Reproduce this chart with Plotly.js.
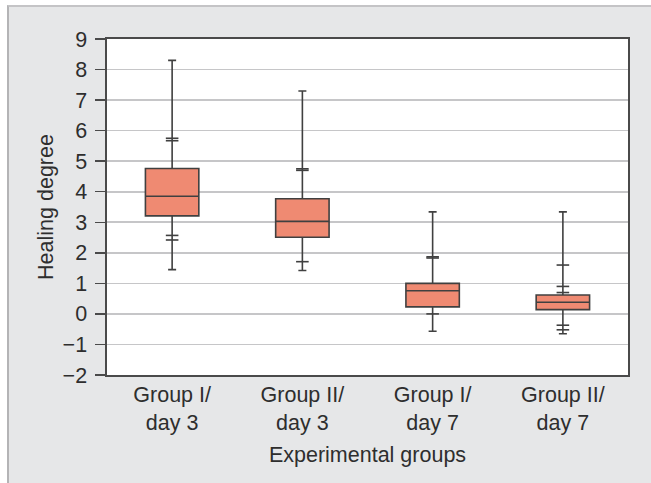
<!DOCTYPE html>
<html>
<head>
<meta charset="utf-8">
<script src="https://cdn.plot.ly/plotly-3.0.1.min.js"></script>
<style>
  html, body { margin: 0; padding: 0; background: #ffffff; width: 651px; height: 483px; overflow: hidden; }
  #chart { position: absolute; left: 7px; top: 5px; width: 642px; height: 476px;
           border-left: 2px solid #b4b4b6; border-top: 2px solid #c4c4c6; }
</style>
</head>
<body>
<div id="chart"></div>
<script>
// Data
const groups = ["Group I/<br>day 3", "Group II/<br>day 3", "Group I/<br>day 7", "Group II/<br>day 7"];
const lowerFence = [1.45, 1.42, -0.57, -0.65];
const q1 = [3.21, 2.51, 0.23, 0.14];
const median = [3.85, 3.03, 0.76, 0.38];
const q3 = [4.76, 3.77, 1.00, 0.62];
const upperFence = [8.30, 7.30, 3.34, 3.34];

// Extra horizontal marks drawn on the whiskers
const markGroup1 = [5.75, 5.67, 2.57, 2.42];
const markGroup2 = [4.75, 4.70, 1.71];
const markGroup3 = [1.87, 1.83, 0.00];
const markGroup4 = [1.60, 0.90, 0.70, -0.37, -0.52];

const yTicks = [-2, -1, 0, 1, 2, 3, 4, 5, 6, 7, 8, 9];

const markX = [], markY = [];
[markGroup1, markGroup2, markGroup3, markGroup4].forEach((arr, i) => {
  arr.forEach(v => { markX.push(groups[i]); markY.push(v); });
});

const textColor = '#2e2e2e';
const fontFamily = '"Liberation Sans", Arial, Helvetica, sans-serif';
const fs = 21.5;

const data = [
  {
    type: 'box',
    x: groups,
    lowerfence: lowerFence,
    q1: q1,
    median: median,
    q3: q3,
    upperfence: upperFence,
    boxpoints: false,
    width: 0.41,
    whiskerwidth: 0.15,
    fillcolor: '#ef8a72',
    line: { color: '#404040', width: 1.6 },
    hoverinfo: 'skip',
    showlegend: false
  },
  {
    type: 'scatter',
    mode: 'markers',
    x: markX,
    y: markY,
    marker: { symbol: 'line-ew', size: 9, line: { color: '#404040', width: 1.6 } },
    hoverinfo: 'skip',
    showlegend: false
  }
];

const layout = {
  width: 642,
  height: 476,
  margin: { l: 98, r: 23, t: 32, b: 108 },
  paper_bgcolor: '#e6e7e8',
  plot_bgcolor: '#ffffff',
  font: { family: fontFamily, color: textColor, size: fs },
  showlegend: false,
  xaxis: {
    type: 'category',
    range: [-0.5, 3.5],
    showgrid: false,
    zeroline: false,
    showline: true,
    mirror: true,
    linecolor: '#4a4a4a',
    linewidth: 1.6,
    ticks: '',
    tickfont: { size: fs, color: textColor },
    title: { text: 'Experimental groups', font: { size: fs, color: textColor }, standoff: 12 }
  },
  yaxis: {
    range: [-2, 9],
    tickvals: yTicks,
    ticktext: yTicks.map(v => v < 0 ? '\u2212' + Math.abs(v) : String(v)),
    showgrid: true,
    gridcolor: '#c6c6c8',
    gridwidth: 1.6,
    zeroline: false,
    showline: true,
    mirror: true,
    linecolor: '#4a4a4a',
    linewidth: 1.6,
    ticks: 'outside',
    ticklen: 10,
    tickwidth: 1.4,
    tickcolor: '#4a4a4a',
    ticklabelstandoff: 4,
    tickfont: { size: fs, color: textColor },
    title: { text: 'Healing degree', font: { size: fs, color: textColor }, standoff: 3 }
  }
};

Plotly.newPlot('chart', data, layout, { displayModeBar: false, staticPlot: true });
</script>
</body>
</html>
